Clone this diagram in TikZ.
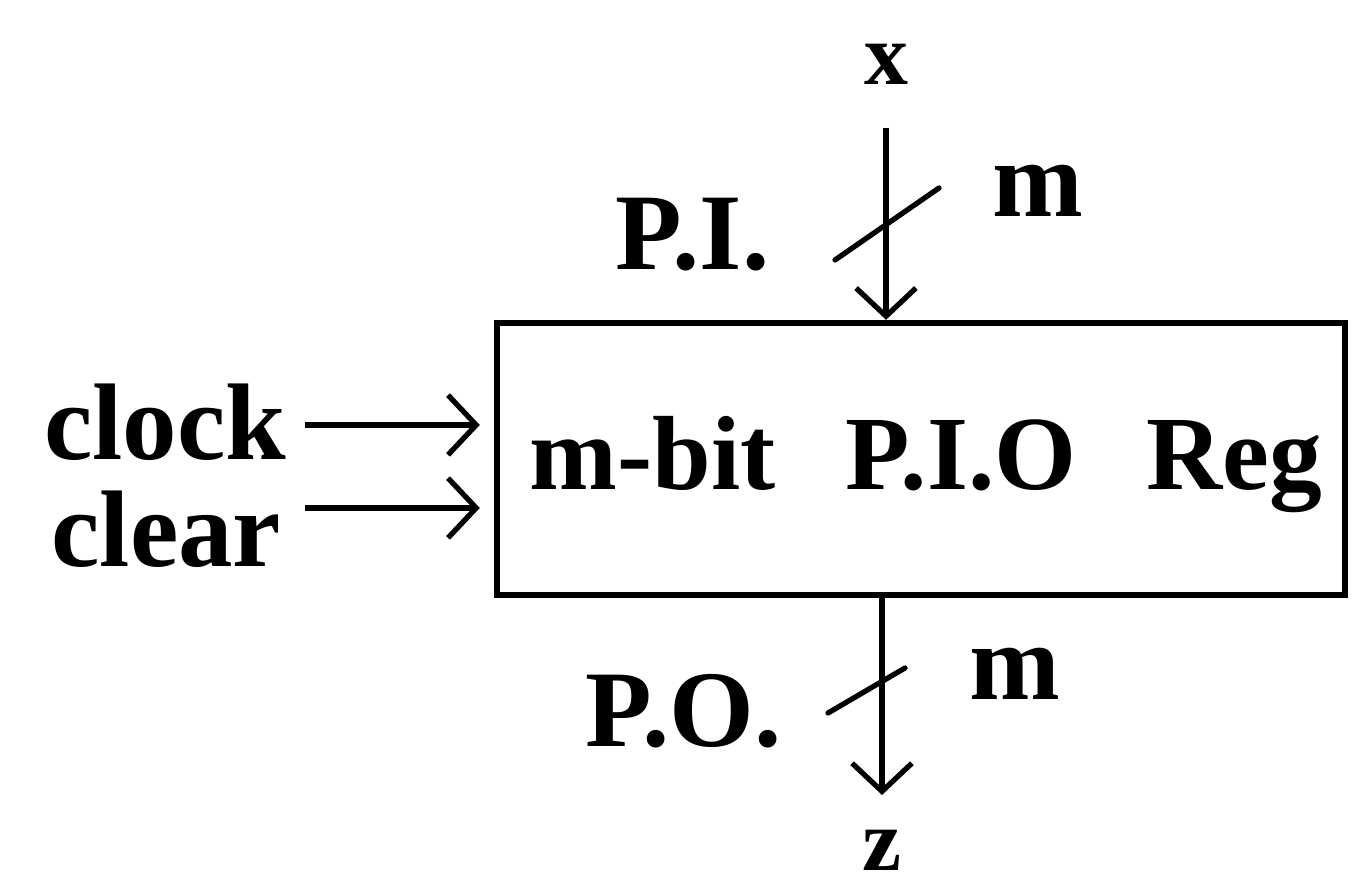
\documentclass[tikz,border=0pt]{standalone}
\usepackage{fontspec}
\setmainfont{Liberation Serif}
\usetikzlibrary{arrows.meta,calc}

\begin{document}
\begin{tikzpicture}[
  sig/.style={line width=1.5pt,-{Straight Barb[length=8pt,width=17pt,line width=1.5pt]}},
  bus/.style={line width=1.5pt,line cap=round},
  lbl/.style={font=\bfseries\fontsize{31}{36}\selectfont,inner sep=0pt},
  vname/.style={font=\bfseries\fontsize{25}{30}\selectfont,inner sep=0pt}]
\useasboundingbox (0,0) rectangle (13.55,8.87);

\node[draw,line width=1.8pt,minimum width=8.48cm,minimum height=2.72cm,inner sep=0pt] (reg) at (9.21,4.28) {};
\node[font=\bfseries\fontsize{30}{36}\selectfont,inner sep=0pt] (regname) at (9.26,4.22) {m-bit\hspace{0.7cm}P.I.O\hspace{0.7cm}Reg};

\node[lbl,anchor=base east] (clock) at (2.87,4.27) {clock};
\node[lbl,anchor=base east] (clear) at (2.82,3.20) {clear};
\coordinate (clkin) at (3.05,4.62);
\coordinate (clrin) at (3.05,3.79);
\draw[sig,shorten >=4pt] (clkin) -- (clkin -| reg.west);
\draw[sig,shorten >=4pt] (clrin) -- (clrin -| reg.west);

% parallel input
\node[vname,anchor=base] (xin) at (8.86,8.02) {x};
\coordinate (xtop) at (8.86,7.59);
\draw[sig] (xtop) -- (xtop |- reg.north);
\coordinate (pislash) at (8.87,6.63);
\draw[bus] ($(pislash)+(-0.52,-0.36)$) -- ($(pislash)+(0.52,0.36)$);
\node[lbl,anchor=base] (mtop) at (10.38,6.70) {m};
\node[lbl,anchor=base east] (pi) at (7.70,6.17) {P.I.};

% parallel output
\coordinate (zend) at (8.82,0.92);
\draw[sig] (zend |- reg.south) -- (zend);
\coordinate (poslash) at (8.82,2.06);
\draw[bus] ($(poslash)+(-0.54,-0.32)$) -- ($(poslash)+(0.23,0.13)$);
\node[lbl,anchor=base] (mbot) at (10.15,1.87) {m};
\node[lbl,anchor=base east] (po) at (7.82,1.40) {P.O.};
\node[vname,anchor=base] (zout) at (8.82,0.16) {z};

\end{tikzpicture}
\end{document}
